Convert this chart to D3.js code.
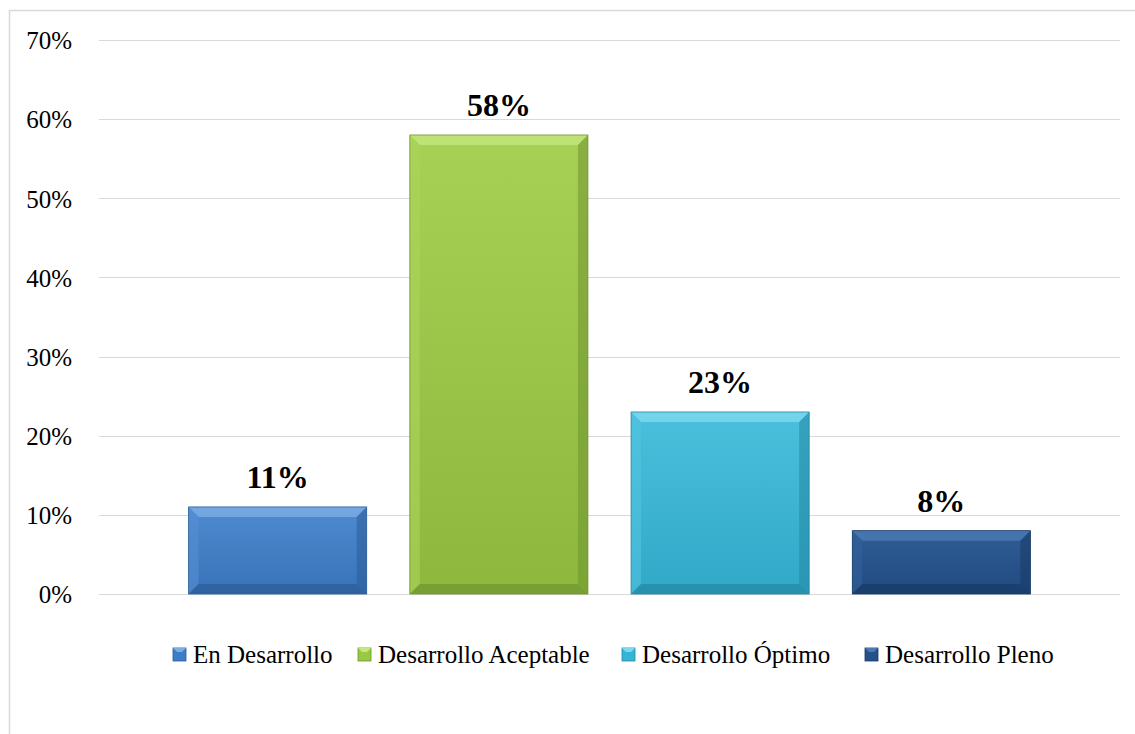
<!DOCTYPE html>
<html><head><meta charset="utf-8">
<script src="https://cdn.jsdelivr.net/npm/d3@7"></script>
<style>body{margin:0;background:#fff}svg{display:block}</style>
</head><body>
<svg id="c" width="1135" height="734"></svg>
<script>
const series = ["En Desarrollo","Desarrollo Aceptable","Desarrollo Óptimo","Desarrollo Pleno"];
const values = [0.11,0.58,0.23,0.08];
const labels = ["11%","58%","23%","8%"];
const ticks = [0,0.1,0.2,0.3,0.4,0.5,0.6,0.7];
const colors = ["#3D7CC6","#9AC843","#35B5D6","#24518A"];
const lightC = ["#7AAEE6","#C6E67E","#7ED9EE","#4C7AB3"];
const darkC = ["#2B5C98","#6F9430","#2588A4","#173A66"];

const svg = d3.select("#c");
const font = "'Liberation Serif','Times New Roman',serif";
svg.append("rect").attr("x",9.5).attr("y",10.5).attr("width",1140).attr("height",740)
  .attr("fill","none").attr("stroke","#d9d9d9").attr("stroke-width",1.5);

const y = d3.scaleLinear().domain([0,0.7]).range([594,40]);
const x = d3.scaleBand().domain(series).range([99,1120]).paddingInner(0.195).paddingOuter(0.405);

svg.append("g").selectAll("line").data(ticks).join("line")
  .attr("x1",99).attr("x2",1120).attr("y1",d=>Math.round(y(d))+0.5).attr("y2",d=>Math.round(y(d))+0.5)
  .attr("stroke","#d9d9d9").attr("stroke-width",1.2);

const yAxis = d3.axisLeft(y).tickValues(ticks).tickFormat(d3.format(".0%")).tickSize(0).tickPadding(0);
const ga = svg.append("g").attr("transform","translate(72,0)").call(yAxis);
ga.select(".domain").remove();
ga.selectAll("text").attr("font-family",font).attr("font-size",25).attr("fill","#000").attr("dy","0.35em");

const defs = svg.append("defs");
series.forEach((s,i)=>{
  const g = defs.append("linearGradient").attr("id","g"+i).attr("x1",0).attr("y1",0).attr("x2",0).attr("y2",1);
  g.append("stop").attr("offset","0%").attr("stop-color",d3.interpolateRgb(colors[i],lightC[i])(0.3));
  g.append("stop").attr("offset","100%").attr("stop-color",d3.interpolateRgb(colors[i],darkC[i])(0.3));
});

const bv = 10;
const bars = svg.append("g").selectAll("g").data(series).join("g");
bars.each(function(s,i){
  const g = d3.select(this);
  const x0 = x(s), w = x.bandwidth(), y0 = y(values[i]), y1 = y(0);
  const b = Math.min(bv, (y1-y0)/2);
  g.append("rect").attr("x",x0).attr("y",y0).attr("width",w).attr("height",y1-y0).attr("fill","url(#g"+i+")");
  g.append("polygon").attr("points",[[x0,y0],[x0+w,y0],[x0+w-b,y0+b],[x0+b,y0+b]].join(" "))
    .attr("fill",lightC[i]).attr("opacity",0.8);
  g.append("polygon").attr("points",[[x0,y0],[x0+b,y0+b],[x0+b,y1-b],[x0,y1]].join(" "))
    .attr("fill",d3.interpolateRgb(colors[i],lightC[i])(0.4)).attr("opacity",0.6);
  g.append("polygon").attr("points",[[x0+w,y0],[x0+w,y1],[x0+w-b,y1-b],[x0+w-b,y0+b]].join(" "))
    .attr("fill",darkC[i]).attr("opacity",0.55);
  g.append("polygon").attr("points",[[x0,y1],[x0+w,y1],[x0+w-b,y1-b],[x0+b,y1-b]].join(" "))
    .attr("fill",darkC[i]).attr("opacity",0.7);
  g.append("rect").attr("x",x0).attr("y",y0).attr("width",w).attr("height",y1-y0)
    .attr("fill","none").attr("stroke",darkC[i]).attr("stroke-width",0.8);
  g.append("text").attr("x",x0+w/2).attr("y",y0-18.5).attr("text-anchor","middle")
    .attr("font-family",font).attr("font-weight","bold").attr("font-size",32).text(labels[i]);
});

const legX = [173,358,622,865];
const lg = svg.append("g").selectAll("g").data(series).join("g")
  .attr("transform",(d,i)=>`translate(${legX[i]},654.5)`);
lg.append("rect").attr("x",0).attr("y",-6.5).attr("width",13).attr("height",13).attr("fill",(d,i)=>colors[i])
  .attr("stroke",(d,i)=>darkC[i]).attr("stroke-width",0.8);
lg.append("polygon").attr("points","0,-6.5 13,-6.5 9,-2.5 4,-2.5").attr("fill",(d,i)=>lightC[i]);
lg.append("text").attr("x",20).attr("y",0).attr("dy","0.35em").attr("font-family",font).attr("font-size",25).text(d=>d);
</script>
</body></html>
